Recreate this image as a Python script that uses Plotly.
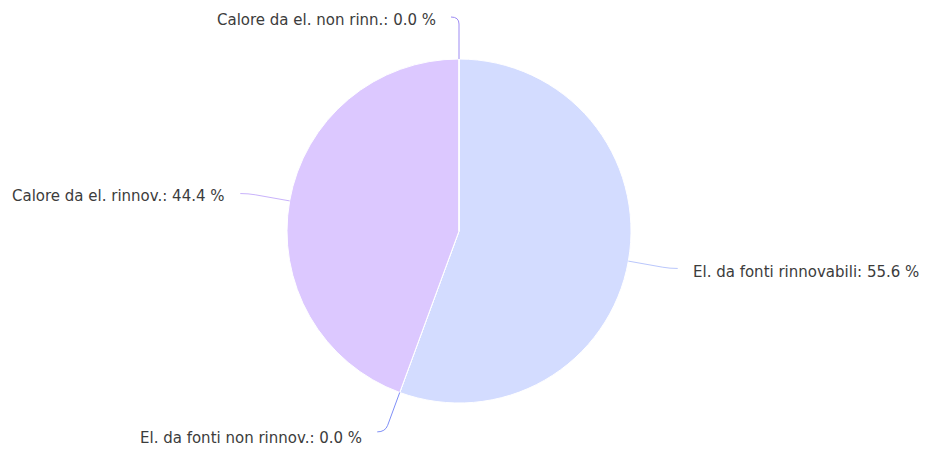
import math
import plotly.graph_objects as go

# ---- data ----
labels = ["El. da fonti rinnovabili", "El. da fonti non rinnov.",
          "Calore da el. rinnov.", "Calore da el. non rinn."]
values = [55.6, 0.0, 44.4, 0.0]

# ---- style ----
slice_colors = ["#d3dcff", "#7f8ff7", "#dcc8ff", "#a08ef5"]
connector_colors = ["#bac7fc", "#7f8ff7", "#c9b3fb", "#9d8bf3"]

W, H = 927, 449
CX, CY, R = 459, 231, 172
DIST = 42      # connector reach beyond radius
GAP = 21       # label gap beyond connector corner


def px(x):
    return x / W


def py(y):
    return 1 - y / H


fig = go.Figure()
fig.add_trace(go.Pie(
    labels=labels,
    values=values,
    sort=False,
    direction="clockwise",
    rotation=0,
    textinfo="none",
    hoverinfo="label+percent",
    marker=dict(colors=slice_colors, line=dict(color="#ffffff", width=1)),
    domain=dict(x=[px(CX - R), px(CX + R)], y=[py(CY + R), py(CY - R)]),
    showlegend=False,
))

total = sum(values)
cum = 0.0
shapes = []
annotations = []
for lab, v, cc in zip(labels, values, connector_colors):
    start = cum / total * 360
    cum += v
    end = cum / total * 360
    mid = math.radians((start + end) / 2)
    sx, sy = math.sin(mid), -math.cos(mid)
    ex, ey = CX + R * sx, CY + R * sy
    kx, ky = CX + (R + DIST) * sx, CY + (R + DIST) * sy
    side = 1 if sx > 1e-9 else -1
    bx, by = kx - 7 * sx, ky - 7 * sy
    fx = kx + side * 8
    path = (f"M {px(ex)},{py(ey)} L {px(bx)},{py(by)} "
            f"Q {px(kx)},{py(ky)} {px(fx)},{py(ky)}")
    shapes.append(dict(type="path", xref="paper", yref="paper", path=path,
                       line=dict(color=cc, width=1)))
    pct = v / total * 100
    dy = 2.5 + 4 * max(0.0, sy)
    annotations.append(dict(
        x=px(kx + side * GAP), y=py(ky + dy), xref="paper", yref="paper",
        text=f"{lab}: {pct:.1f} %", showarrow=False,
        xanchor="left" if side > 0 else "right", yanchor="middle",
        font=dict(family="DejaVu Sans", size=15, color="#3c3c3c"),
    ))

fig.update_layout(
    width=W, height=H,
    margin=dict(l=0, r=0, t=0, b=0),
    paper_bgcolor="#ffffff",
    plot_bgcolor="#ffffff",
    shapes=shapes,
    annotations=annotations,
)

fig.write_html("out.html",
               config={"displayModeBar": False},
               post_script="document.body.style.margin='0';document.body.style.overflow='hidden';")
